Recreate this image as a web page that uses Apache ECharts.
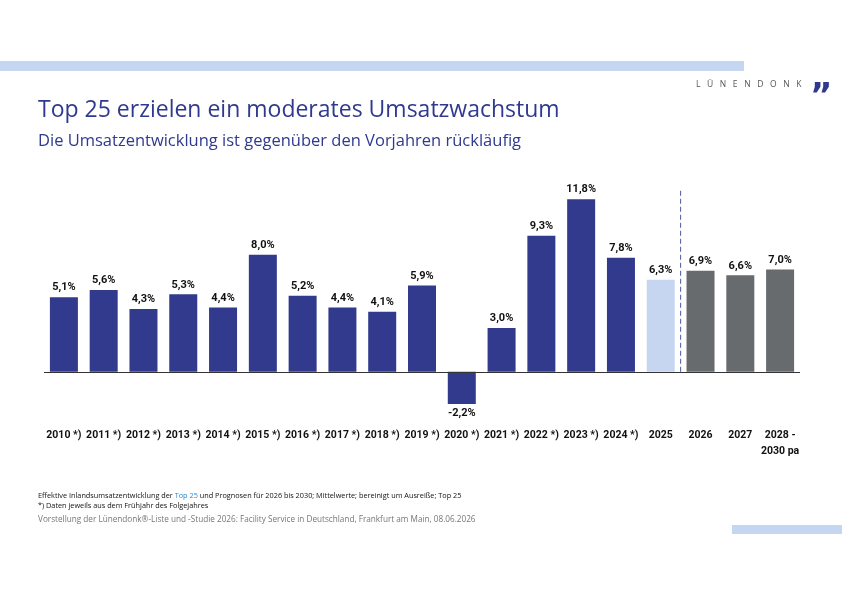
<!DOCTYPE html>
<html>
<head>
<meta charset="utf-8">
<script src="https://cdn.jsdelivr.net/npm/echarts@6/dist/echarts.min.js"></script>
<style>
  html, body { margin: 0; padding: 0; background: #fff; }
  #page { position: relative; width: 842px; height: 595px; overflow: hidden; font-family: "Open Sans", "Noto Sans", sans-serif; }
  #chart { position: absolute; left: 0; top: 0; width: 842px; height: 595px; }
  .abs { position: absolute; white-space: nowrap; }
  .bar-top { left: 0; top: 61px; width: 744px; height: 10px; background: #c5d6f1; }
  .bar-bottom { left: 732px; top: 525px; width: 110px; height: 9px; background: #c5d6f1; }
  .logo { left: 696px; top: 78px; font-size: 8.5px; letter-spacing: 6.6px; color: #555; }
  .logo-mark { left: 810px; top: 78px; font-size: 34px; font-weight: bold; color: #2f3a8f; font-family: "DejaVu Sans"; line-height: 34px; }
  .title { left: 38px; top: 92px; font-size: 23px; color: #2f3a8f; }
  .subtitle { left: 38px; top: 128px; font-size: 16.5px; color: #2f3a8f; }
  .note { left: 38px; font-size: 7.3px; color: #111; font-family: "Liberation Sans Narrow", "Open Sans", sans-serif; }
  .note .hl { color: #1e8fd6; }
  .source { left: 38px; top: 513px; font-size: 8.2px; color: #777; }
</style>
</head>
<body>
<div id="page">
  <div id="chart"></div>
  <div class="abs bar-top"></div>
  <div class="abs bar-bottom"></div>
  <div class="abs logo">LÜNENDONK</div>
  <div class="abs logo-mark">”</div>
  <div class="abs title">Top 25 erzielen ein moderates Umsatzwachstum</div>
  <div class="abs subtitle">Die Umsatzentwicklung ist gegenüber den Vorjahren rückläufig</div>
  <div class="abs note" style="top:490px">Effektive Inlandsumsatzentwicklung der <span class="hl">Top 25</span> und Prognosen für 2026 bis 2030; Mittelwerte; bereinigt um Ausreiße; Top 25</div>
  <div class="abs note" style="top:500px">*) Daten jeweils aus dem Frühjahr des Folgejahres</div>
  <div class="abs source">Vorstellung der Lünendonk®-Liste und -Studie 2026: Facility Service in Deutschland, Frankfurt am Main, 08.06.2026</div>
</div>
<script>
// Umsatzwachstum Top 25 in %
const categories = ['2010 *)', '2011 *)', '2012 *)', '2013 *)', '2014 *)', '2015 *)', '2016 *)', '2017 *)',
    '2018 *)', '2019 *)', '2020 *)', '2021 *)', '2022 *)', '2023 *)', '2024 *)', '2025', '2026', '2027', '2028 -\n2030 pa'];
const growth = [5.1, 5.6, 4.3, 5.3, 4.4, 8.0, 5.2, 4.4, 4.1, 5.9, -2.2, 3.0, 9.3, 11.8, 7.8, 6.3, 6.9, 6.6, 7.0];
// ist = Ist-Werte, vorl = vorläufig, prog = Prognose
const kind = ['ist', 'ist', 'ist', 'ist', 'ist', 'ist', 'ist', 'ist', 'ist', 'ist', 'ist', 'ist', 'ist', 'ist', 'ist', 'vorl', 'prog', 'prog', 'prog'];
// Trennlinie zwischen 2025 und 2026
const separator = [[15.5, 0], [15.5, 12.4]];

const colors = { ist: '#313a8c', vorl: '#c6d6f1', prog: '#676b6e' };
const labelFont = 'Roboto';

const chart = echarts.init(document.getElementById('chart'));

const option = {
    animation: false,
    grid: { left: 44, right: 42, top: 167, bottom: 172 },
    xAxis: [
        {
            type: 'category',
            data: categories,
            axisLine: { show: false, onZero: false },
            axisTick: { show: false },
            axisLabel: {
                interval: 0,
                margin: 4,
                color: '#111',
                fontSize: 10.5,
                fontWeight: 'bold',
                fontFamily: labelFont,
                lineHeight: 16,
                verticalAlign: 'top'
            }
        },
        { type: 'value', min: -0.5, max: 18.5, show: false }
    ],
    yAxis: {
        type: 'value',
        min: -3.5,
        max: 14,
        show: false,
        splitLine: { show: false }
    },
    series: [
        {
            type: 'bar',
            barWidth: 28,
            data: growth.map((v, i) => ({
                value: v,
                itemStyle: { color: colors[kind[i]] },
                label: { position: v < 0 ? 'bottom' : 'top' }
            })),
            label: {
                show: true,
                distance: 4,
                color: '#111',
                fontSize: 11,
                fontWeight: 'bold',
                fontFamily: labelFont,
                formatter: p => p.value.toFixed(1).replace('.', ',') + '%'
            },
            markLine: {
                silent: true,
                symbol: 'none',
                label: { show: false },
                lineStyle: { color: '#333', width: 1, type: 'solid' },
                data: [{ yAxis: 0 }]
            }
        },
        {
            type: 'line',
            xAxisIndex: 1,
            data: separator,
            symbol: 'none',
            silent: true,
            lineStyle: { color: '#4a55a3', width: 1, type: [5, 3] }
        }
    ]
};

chart.setOption(option);
</script>
</body>
</html>
